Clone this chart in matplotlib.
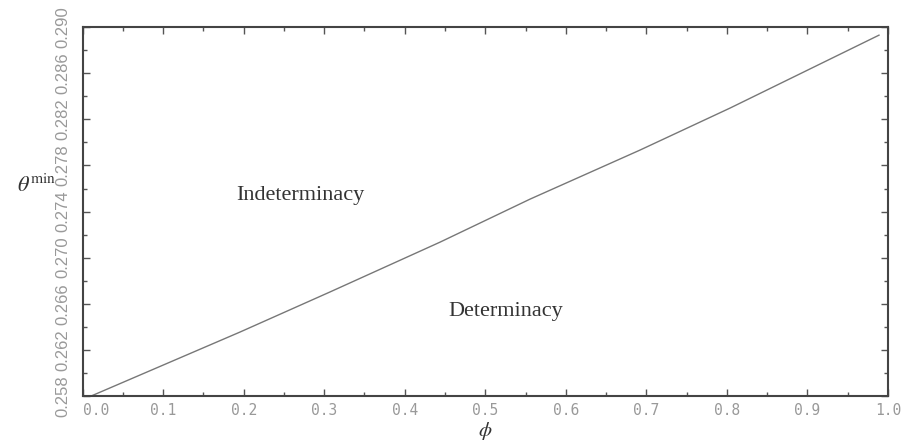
import matplotlib
matplotlib.use("Agg")
import matplotlib.pyplot as plt
from matplotlib.ticker import MultipleLocator, FixedLocator
from matplotlib.transforms import ScaledTranslation

phi = [0.0106, 0.1955, 0.307, 0.4439, 0.5556, 0.692, 0.804, 0.9888]
theta_min = [0.2580, 0.26355, 0.26702, 0.27135, 0.27508, 0.27933, 0.28298, 0.2893]
x_ticks = [0.0, 0.1, 0.2, 0.3, 0.4, 0.5, 0.6, 0.7, 0.8, 0.9, 1.0]
y_ticks = [0.258, 0.262, 0.266, 0.270, 0.274, 0.278, 0.282, 0.286, 0.290]

plt.rcParams['mathtext.fontset'] = 'stix'

fig = plt.figure(figsize=(9.01, 4.44), dpi=100)
ax = fig.add_axes([0.0916, 0.108, 0.894, 0.831])
ax.plot(phi, theta_min, color='#777777', lw=1.0)
ax.set_xlim(0, 1)
ax.set_ylim(0.258, 0.290)

ax.xaxis.set_major_locator(FixedLocator(x_ticks))
ax.xaxis.set_minor_locator(MultipleLocator(0.05))
ax.yaxis.set_major_locator(FixedLocator(y_ticks))
ax.yaxis.set_minor_locator(MultipleLocator(0.002))
ax.set_xticklabels([f"{v:.1f}" for v in x_ticks])
ax.set_yticklabels([f"{v:.3f}" for v in y_ticks])

ax.tick_params(which='both', direction='in', top=True, right=True, color='#555555',
               labelcolor='#999999')
ax.tick_params(which='major', length=5, width=1)
ax.tick_params(which='minor', length=3, width=1)
ax.tick_params(axis='x', labelsize=10.5, pad=5)
ax.tick_params(axis='y', labelsize=12, pad=9)
xlabs = ax.get_xticklabels()
for lab in xlabs:
    lab.set_family('DejaVu Sans Mono')
xlabs[0].set_transform(xlabs[0].get_transform() + ScaledTranslation(14/100, 0, fig.dpi_scale_trans))
for lab in ax.get_yticklabels():
    lab.set_rotation(90)
    lab.set_va('center')
    lab.set_family('Liberation Sans')
for s in ax.spines.values():
    s.set_color('#444444')
    s.set_linewidth(1.5)

ax.text(0.27, 0.27543, 'Indeterminacy', family='Liberation Serif', fontsize=16,
        color='#333333', ha='center', va='center')
ax.text(0.526, 0.26537, 'Determinacy', family='Liberation Serif', fontsize=16,
        color='#333333', ha='center', va='center')

fig.text(0.040, 0.585, r'$\theta^{\mathrm{min}}$', fontsize=16, color='#333333',
         ha='center', va='center')
fig.text(0.538, 0.030, r'$\phi$', fontsize=15, color='#333333', ha='center', va='center')

fig.savefig('out.png', dpi=100)
